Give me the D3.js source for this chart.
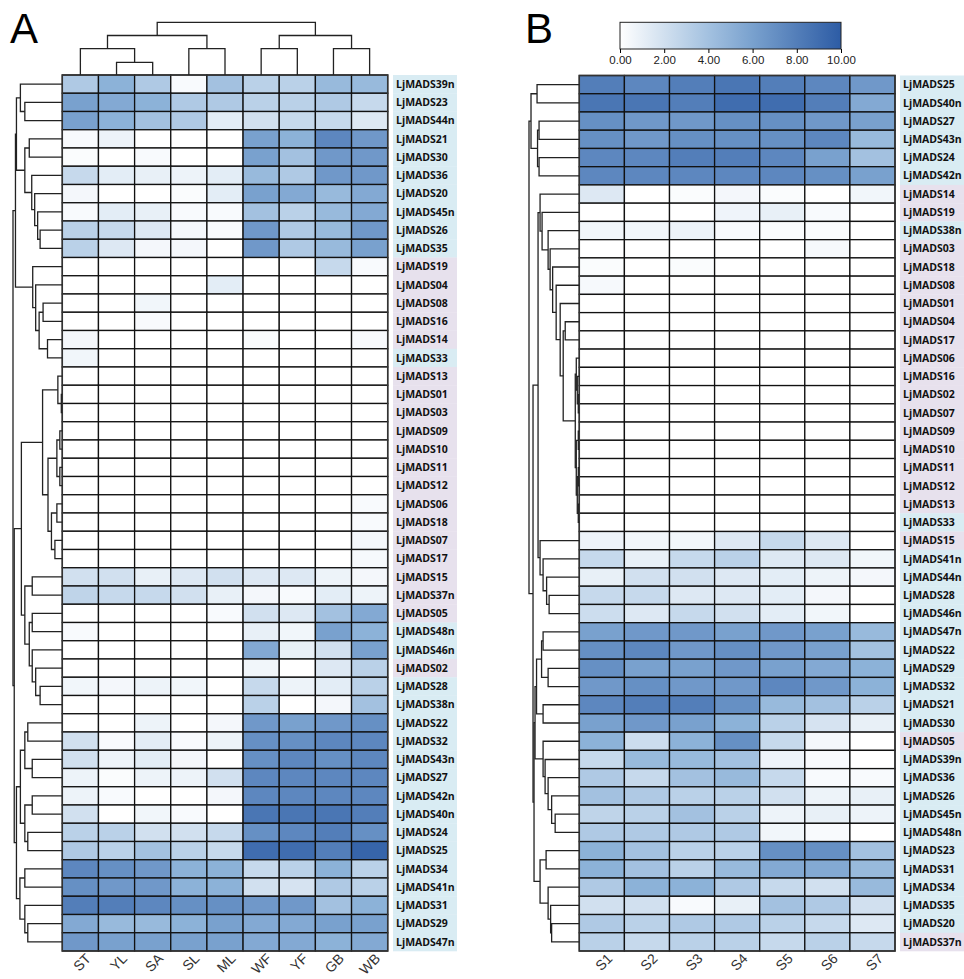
<!DOCTYPE html>
<html><head><meta charset="utf-8">
<script src="https://cdn.jsdelivr.net/npm/d3@7"></script>
<style>body{margin:0;background:#fff}</style>
</head><body><div id="chart"></div>
<script>
var width = 964, height = 979

// panel A
var colsA = ["ST","YL","SA","SL","ML","WF","YF","GB","WB"]
var genesA = ["LjMADS39n","LjMADS23","LjMADS44n","LjMADS21","LjMADS30","LjMADS36","LjMADS20","LjMADS45n","LjMADS26","LjMADS35",
  "LjMADS19","LjMADS04","LjMADS08","LjMADS16","LjMADS14","LjMADS33","LjMADS13","LjMADS01","LjMADS03","LjMADS09",
  "LjMADS10","LjMADS11","LjMADS12","LjMADS06","LjMADS18","LjMADS07","LjMADS17","LjMADS15","LjMADS37n","LjMADS05",
  "LjMADS48n","LjMADS46n","LjMADS02","LjMADS28","LjMADS38n","LjMADS22","LjMADS32","LjMADS43n","LjMADS27","LjMADS42n",
  "LjMADS40n","LjMADS24","LjMADS25","LjMADS34","LjMADS41n","LjMADS31","LjMADS29","LjMADS47n"]
var valuesA = [
  [3.5, 5, 3.5, 0.3, 4, 3, 3, 4.5, 4.5],
  [6, 5.5, 5, 3.5, 3.5, 3, 3, 3.5, 2.5],
  [6, 5, 4, 3.5, 1.2, 2, 2.5, 2.5, 1.5],
  [0.3, 0.8, 0, 0, 0, 6, 5, 7.5, 6.5],
  [0.2, 0, 0.3, 0, 0, 6, 4, 6.5, 6.5],
  [2.5, 1.2, 1, 0.8, 1.2, 4.5, 3.5, 6.5, 6.5],
  [0.5, 0, 0, 0.2, 1.2, 6, 5.5, 4.5, 5.5],
  [0.3, 1.2, 1, 0.3, 0.3, 4, 3, 4.5, 5.5],
  [3, 2.5, 1.5, 0.5, 0.3, 6.5, 3.5, 4.5, 6.5],
  [3, 1.5, 0.5, 0.5, 0, 6.5, 3.5, 4.5, 6],
  [0, 0, 0, 0, 0, 0, 0, 2.5, 0.3],
  [0, 0, 0, 0, 1.2, 0, 0, 0, 0],
  [0, 0, 0.6, 0, 0, 0, 0, 0, 0],
  [0, 0, 0.3, 0, 0, 0, 0, 0, 0],
  [0.5, 0, 0, 0, 0, 0.2, 0, 0, 0.3],
  [0.6, 0, 0, 0, 0, 0, 0, 0, 0],
  [0, 0, 0, 0, 0, 0, 0, 0, 0],
  [0, 0, 0, 0, 0, 0, 0, 0, 0],
  [0, 0, 0, 0, 0, 0, 0, 0, 0],
  [0, 0, 0, 0, 0, 0, 0, 0, 0],
  [0, 0, 0, 0, 0, 0, 0, 0, 0],
  [0, 0, 0, 0, 0, 0, 0, 0, 0],
  [0, 0, 0, 0, 0, 0, 0, 0, 0],
  [0, 0, 0, 0, 0, 0, 0, 0, 0.3],
  [0, 0, 0, 0, 0, 0, 0, 0, 0.3],
  [0, 0, 0, 0, 0, 0, 0, 0, 0.5],
  [0, 0, 0, 0, 0, 0, 0, 0, 0.4],
  [2, 2, 1, 1.5, 2, 1.5, 1.5, 0.8, 0.5],
  [2.8, 2.5, 2.5, 2, 1, 0.5, 0.3, 1.2, 0.8],
  [0, 0, 0, 0, 0.3, 2, 1.5, 4, 5.5],
  [0.3, 0, 0, 0, 0, 1, 0.6, 6, 5],
  [0, 0, 0, 0, 0, 5.5, 1, 2, 6],
  [0, 0, 0, 0, 0, 0.6, 0, 1.5, 3],
  [0.6, 0.5, 0.8, 0.6, 0, 2.5, 0.8, 1.2, 3],
  [0, 0, 0, 0, 0, 3, 0, 0.5, 4],
  [0, 0, 0.8, 0, 0.5, 6.5, 6, 6.5, 7],
  [2, 0.3, 1.2, 0.3, 0.8, 7, 7, 7.5, 7.5],
  [2, 0.8, 1.2, 0.5, 0, 7, 7.5, 7, 7.5],
  [0.8, 0.2, 0.8, 0.8, 2, 7.5, 7.5, 7.5, 7.5],
  [0.8, 0.3, 0, 0, 0.5, 7.5, 7.5, 7.5, 7.5],
  [2, 0, 0.6, 0.3, 0, 8.5, 8.5, 8.5, 8],
  [3, 3, 2, 2, 2.5, 7, 7.5, 8, 7],
  [3.5, 3, 4, 3, 2.5, 9, 9, 8, 9.5],
  [7.5, 7, 6.5, 5, 5, 2.5, 3, 5, 3],
  [7, 6.5, 6.5, 5, 5, 2, 1.8, 3.5, 3],
  [8, 8, 7.5, 7, 7, 6.5, 6.5, 4, 5],
  [5.5, 4.5, 4.5, 5, 6, 5.5, 5.5, 6, 6],
  [6.5, 6, 6, 6, 6, 5.5, 5.5, 5, 5.5]
]

// dendrograms: [left, right, height], leaves are row/column indices, root height = 1
var colTreeA = [[[0, [1, 2, 0.24], 0.5], [3, 4, 0.5], 0.75], [[5, 6, 0.5], [7, 8, 0.5], 0.75], 1]
var treeA1 = [[0, [1, 2, 0.76], 0.85], [[3, 4, 0.67], [5, [6, [7, [8, 9, 0.45], 0.5], 0.56], 0.62], 0.76], 0.93]
var treeA2u = [10, [11, [[12, 13, 0.39], [14, 15, 0.3], 0.47], 0.54], 0.6]
var treeA2l = [[16, [17, 18, 0.02], 0.09], [[[19, 20, 0.05], [21, 22, 0.05], 0.11], [[23, 24, 0.11], [25, 26, 0.15], 0.22], 0.29], 0.4]
var treeA3 = [[27, 28, 0.61], [[29, 30, 0.61], [31, [32, [33, 34, 0.45], 0.54], 0.61], 0.67], 0.76]
var treeA4 = [[[35, 36, 0.7], [37, 38, 0.61], 0.76], [[39, 40, 0.61], [41, 42, 0.7], 0.76], 0.85]
var treeA5 = [[43, 44, 0.76], [45, [46, 47, 0.7], 0.76], 0.86]
var rowTreeA = [[treeA1, treeA2u, 0.95], [[treeA2l, treeA3, 0.83], [treeA4, treeA5, 0.93], 0.975], 1]

// panel B
var colsB = ["S1","S2","S3","S4","S5","S6","S7"]
var genesB = ["LjMADS25","LjMADS40n","LjMADS27","LjMADS43n","LjMADS24","LjMADS42n","LjMADS14","LjMADS19","LjMADS38n","LjMADS03",
  "LjMADS18","LjMADS08","LjMADS01","LjMADS04","LjMADS17","LjMADS06","LjMADS16","LjMADS02","LjMADS07","LjMADS09",
  "LjMADS10","LjMADS11","LjMADS12","LjMADS13","LjMADS33","LjMADS15","LjMADS41n","LjMADS44n","LjMADS28","LjMADS46n",
  "LjMADS47n","LjMADS22","LjMADS29","LjMADS32","LjMADS21","LjMADS30","LjMADS05","LjMADS39n","LjMADS36","LjMADS26",
  "LjMADS45n","LjMADS48n","LjMADS23","LjMADS31","LjMADS34","LjMADS35","LjMADS20","LjMADS37n"]
var valuesB = [
  [8, 7.5, 8, 8.5, 8, 7.5, 6.5],
  [8.5, 8.5, 8, 9, 9, 8, 5.5],
  [7, 6.5, 6.5, 7, 7, 6.5, 6],
  [7, 6.5, 7, 7, 7, 7.5, 4.5],
  [7.5, 7.5, 8, 8, 7.5, 6, 4],
  [7.5, 7.5, 7.5, 7.5, 7.5, 7, 6],
  [1.5, 0, 0.2, 0.5, 0.2, 0, 0.6],
  [0, 0, 0, 0.7, 1, 0.3, 0],
  [0.6, 0.6, 0.8, 0.3, 0.2, 0.2, 0],
  [0, 0, 0, 0, 0, 0.4, 0],
  [0.2, 0, 0.2, 0, 0, 0, 0],
  [0.4, 0, 0, 0, 0, 0, 0],
  [0, 0, 0, 0, 0, 0, 0],
  [0, 0, 0, 0, 0, 0, 0],
  [0, 0, 0, 0, 0, 0, 0],
  [0, 0, 0, 0, 0, 0, 0],
  [0, 0, 0, 0, 0, 0, 0],
  [0, 0, 0, 0, 0, 0, 0],
  [0, 0, 0, 0, 0, 0, 0],
  [0, 0, 0, 0, 0, 0, 0],
  [0, 0, 0, 0, 0, 0, 0],
  [0, 0, 0, 0, 0, 0, 0],
  [0, 0, 0, 0, 0, 0, 0],
  [0, 0, 0, 0, 0, 0, 0],
  [0, 0, 0, 0, 0, 0, 0],
  [0.8, 0.6, 0.6, 1.5, 2.5, 1.5, 0],
  [2.5, 1, 2.5, 3, 1.5, 1.5, 0.6],
  [1, 2, 2, 1.5, 1.2, 0.8, 0.5],
  [2.5, 2.5, 1.5, 1.5, 1.2, 0.5, 0],
  [2.2, 1.5, 2.5, 2, 1.2, 0.6, 0],
  [6, 6.5, 6.5, 6, 6.5, 6, 4.5],
  [7, 7.5, 6.5, 7, 6.5, 6, 4],
  [7, 6, 6, 6.5, 6, 5.5, 5],
  [6.5, 7, 6.5, 6.5, 7.5, 6.5, 5],
  [7.5, 8, 8, 7, 4.5, 4, 3],
  [6, 6.5, 6, 5, 3, 1.8, 1],
  [5, 2.2, 5, 7, 2.5, 0.5, 0],
  [2.5, 4.5, 4.5, 4, 0.8, 0.3, 0],
  [3.5, 2.5, 4, 4.5, 2.5, 0.3, 0.3],
  [4, 3.5, 3, 3, 2, 0.8, 1],
  [2.8, 3, 4, 3, 0.8, 1, 0.8],
  [3.5, 3.5, 3.5, 3.5, 0.6, 0.3, 0],
  [5, 4, 3, 3, 7, 7, 4],
  [5, 4, 3, 4.5, 5.5, 5.5, 4.5],
  [3.5, 5, 5, 3.5, 2.5, 2, 4.5],
  [2, 2, 0.3, 1, 4, 3.5, 2],
  [3.5, 3, 3.5, 3.5, 3, 2.5, 1.5],
  [3, 2.5, 3, 3, 2.5, 3, 2.5]
]
var treeB1 = [[0, 1, 0.84], [[2, 3, 0.8], [4, 5, 0.8], 0.83], 0.96]
var treeB2 = [6, [7, [8, [9, [10, [11, [12, [[13, 14, 0.28], [[15, [16, [17, 18, 0.02], 0.04], 0.06], [[19, 20, 0.02], [[21, 22, 0.02], [23, 24, 0.02], 0.04], 0.06], 0.08], 0.32], 0.38], 0.46], 0.53], 0.58], 0.62], 0.74], 0.78]
var treeB3 = [25, [26, [27, [28, 29, 0.6], 0.65], 0.72], 0.78]
var treeB4a = [[[30, 31, 0.72], [32, 33, 0.62], 0.75], [34, 35, 0.72], 0.85]
var treeB4b = [36, [37, [38, [39, [40, 41, 0.48], 0.55], 0.62], 0.68], 0.72]
var treeB4c = [[42, 43, 0.66], [44, [45, [46, 47, 0.55], 0.57], 0.62], 0.78]
var rowTreeB = [treeB1, [[treeB2, treeB3, 0.82], [[treeB4a, treeB4b, 0.88], treeB4c, 0.9], 0.92], 1]

var legendTicks = [0, 2, 4, 6, 8, 10]
var lavenderExtra = ["LjMADS37n"]

var color = d3.scaleLinear().domain([0, 5, 10]).range(["#ffffff", "#8cb2d8", "#2d5ca5"])

var svg = d3.select("#chart").append("svg")
  .attr("width", width)
  .attr("height", height)
  .style("font-family", "Liberation Sans, Arial, sans-serif")

function isLav(g){
  var n = parseInt(g.slice(6), 10)
  return n < 20 || lavenderExtra.indexOf(g) >= 0
}

function heatmap(g, genes, cols, values, x0, x1, y0, y1, labelX, labelW){
  var x = d3.scaleBand().domain(cols).range([x0, x1])
  var y = d3.scaleBand().domain(genes).range([y0, y1])
  g.selectAll("rect.lab").data(genes).enter().append("rect")
    .attr("class", "lab")
    .attr("x", labelX - 3)
    .attr("y", function(d){ return y(d) })
    .attr("width", labelW)
    .attr("height", y.bandwidth() + 0.3)
    .attr("fill", function(d){ return isLav(d) ? "#e7e1ed" : "#d9ecf3" })
  g.selectAll("text.lab").data(genes).enter().append("text")
    .attr("class", "lab")
    .attr("x", labelX)
    .attr("y", function(d){ return y(d) + y.bandwidth()/2 })
    .attr("dy", "0.35em")
    .style("font-family", "Open Sans, sans-serif")
    .style("font-weight", "bold")
    .style("font-size", "10.5px")
    .attr("fill", "#111")
    .text(function(d){ return d })
  var cells = []
  values.forEach(function(row, i){
    row.forEach(function(v, j){ cells.push({gene: genes[i], col: cols[j], v: v}) })
  })
  g.selectAll("rect.cell").data(cells).enter().append("rect")
    .attr("class", "cell")
    .attr("x", function(d){ return x(d.col) })
    .attr("y", function(d){ return y(d.gene) })
    .attr("width", x.bandwidth())
    .attr("height", y.bandwidth())
    .attr("fill", function(d){ return color(d.v) })
    .attr("stroke", "#111")
    .attr("stroke-width", 1.3)
  g.append("rect")
    .attr("x", x0).attr("y", y0)
    .attr("width", x1 - x0).attr("height", y1 - y0)
    .attr("fill", "none").attr("stroke", "#333").attr("stroke-width", 1.5)
  g.selectAll("text.col").data(cols).enter().append("text")
    .attr("class", "col")
    .attr("transform", function(d){ return "translate(" + (x(d) + x.bandwidth()/2 + 8) + "," + (y1 + 5) + ") rotate(-45)" })
    .attr("text-anchor", "end")
    .attr("dy", "0.35em")
    .style("font-size", "14px")
    .attr("fill", "#333")
    .text(function(d){ return d })
  return {x: x, y: y}
}

// elbow dendrogram; pos gives a leaf coordinate, depth maps height to the other axis
function dendro(g, tree, pos, depth, vertical){
  function walk(n){
    if (typeof n === "number") return {p: pos(n), h: 0}
    var a = walk(n[0])
    var b = walk(n[1])
    var h = n[2]
    var d = depth(h)
    var pts = vertical
      ? [[a.p, depth(a.h)], [a.p, d], [b.p, d], [b.p, depth(b.h)]]
      : [[depth(a.h), a.p], [d, a.p], [d, b.p], [depth(b.h), b.p]]
    g.append("path")
      .attr("d", d3.line()(pts))
      .attr("fill", "none")
      .attr("stroke", "#222")
      .attr("stroke-width", 1.3)
    return {p: (a.p + b.p)/2, h: h}
  }
  walk(tree)
}

// panel A
var gA = svg.append("g")
var sA = heatmap(gA, genesA, colsA, valuesA, 62.3, 387.7, 75, 951, 396, 64)
dendro(gA, rowTreeA, function(i){ return sA.y(genesA[i]) + sA.y.bandwidth()/2 },
  d3.scaleLinear().domain([0, 1]).range([62.3, 13]), false)
dendro(gA, colTreeA, function(i){ return sA.x(colsA[i]) + sA.x.bandwidth()/2 },
  d3.scaleLinear().domain([0, 1]).range([75, 22.3]), true)
svg.append("text").attr("x", 10).attr("y", 43).style("font-size", "42px").text("A")

// panel B
var gB = svg.append("g")
var sB = heatmap(gB, genesB, colsB, valuesB, 579.3, 895, 75.5, 951, 903, 64)
dendro(gB, rowTreeB, function(i){ return sB.y(genesB[i]) + sB.y.bandwidth()/2 },
  d3.scaleLinear().domain([0, 1]).range([579.3, 529]), false)
svg.append("text").attr("x", 525).attr("y", 43).style("font-size", "42px").text("B")

// colour legend
var grad = svg.append("defs").append("linearGradient").attr("id", "lg")
legendTicks.forEach(function(v){
  grad.append("stop").attr("offset", (v * 10) + "%").attr("stop-color", color(v))
})
var lx = d3.scaleLinear().domain([0, 10]).range([620, 841])
svg.append("rect")
  .attr("x", 620).attr("y", 22.3)
  .attr("width", 221).attr("height", 26.7)
  .attr("fill", "url(#lg)")
  .attr("stroke", "#222")
  .attr("stroke-width", 1)
var lAxis = svg.append("g")
  .attr("transform", "translate(0,49)")
  .call(d3.axisBottom(lx).tickValues(legendTicks).tickSize(4).tickFormat(d3.format(".2f")))
lAxis.select(".domain").remove()
lAxis.selectAll("text")
  .style("font-size", "11.5px")
  .style("font-family", "Liberation Sans, Arial, sans-serif")
  .attr("fill", "#222")
</script>
</body></html>
